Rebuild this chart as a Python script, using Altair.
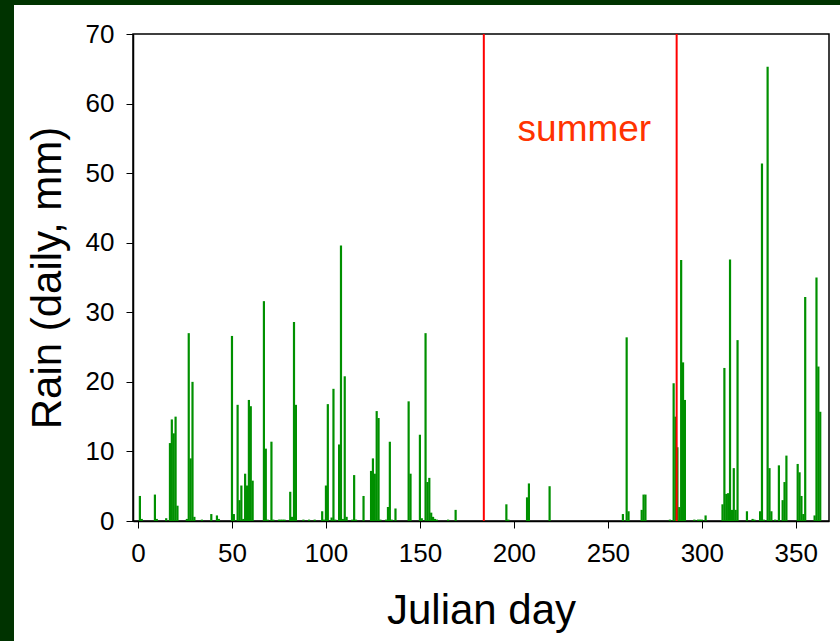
import altair as alt
import pandas as pd

# Daily rain (mm) by Julian day
days = [1, 2, 9, 10, 15, 17, 18, 19, 20, 21, 26, 27, 28, 29, 30, 34, 39, 42, 43,
        50, 51, 53, 54, 55, 56, 57, 58, 59, 60, 61, 67, 68, 69, 71, 72, 75, 76, 77, 78,
        81, 82, 83, 84, 88, 91, 94, 98, 99, 100, 101, 103, 104, 105, 107, 108, 109, 110,
        111, 114, 115, 116, 120, 124, 125, 126, 127, 128, 129, 132, 133, 134, 135, 137,
        144, 145, 150, 151, 153, 154, 155, 156, 157, 158, 159, 165, 169, 196, 197, 207,
        208, 219, 258, 260, 261, 268, 269, 270, 283, 285, 286, 287, 288, 289, 290, 291,
        296, 298, 299, 300, 302, 311, 312, 313, 314, 315, 316, 317, 318, 319, 324, 327,
        328, 331, 332, 333, 335, 336, 337, 339, 341, 343, 344, 345, 351, 352, 353, 354,
        355, 360, 361, 362, 363]
rain = [3.6, 0.3, 3.8, 0.3, 0.4, 11.2, 14.6, 12.6, 15.0, 2.2, 0.3, 27.0, 9.0, 20.0, 0.6, 0.2, 1.0, 0.8, 0.3,
        26.6, 1.0, 16.7, 3.0, 5.1, 0.3, 6.8, 5.1, 17.4, 16.5, 5.8, 31.6, 10.4, 0.2, 11.4, 0.2, 0.2, 0.2, 0.2, 0.2,
        4.2, 0.6, 28.6, 16.7, 0.2, 0.2, 0.2, 1.4, 0.2, 5.1, 16.8, 0.5, 19.0, 0.2, 11.0, 39.6, 0.3, 20.8,
        0.6, 0.2, 6.6, 0.2, 3.6, 7.2, 9.0, 6.8, 15.8, 14.8, 0.2, 0.2, 2.0, 11.4, 0.2, 1.8,
        17.2, 6.8, 12.4, 0.4, 27.0, 5.6, 6.2, 1.2, 0.6, 0.3, 0.2, 0.2, 1.6, 2.4, 0.2, 3.4,
        5.4, 5.0, 1.0, 26.4, 1.4, 1.6, 3.8, 3.8, 0.2, 19.8, 15.0, 10.6, 2.0, 37.5, 22.8, 17.4,
        0.2, 0.2, 0.2, 0.2, 0.8, 2.4, 22.0, 3.9, 4.0, 37.6, 1.6, 7.6, 1.6, 26.0, 1.4, 0.3,
        0.2, 1.4, 51.4, 0.2, 65.3, 7.6, 1.4, 0.2, 8.0, 3.0, 5.6, 9.4, 8.2, 7.0, 3.6, 1.0,
        32.2, 0.8, 35.0, 22.2, 15.7]

summer_bounds = [184, 286.6]
summer_label = ["summer"]
summer_day = [237.5]
summer_rain = [54.6]

x_ticks = [0, 50, 100, 150, 200, 250, 300, 350]
y_ticks = [0, 10, 20, 30, 40, 50, 60, 70]

df = pd.DataFrame({"day": days, "rain": rain})
bounds_df = pd.DataFrame({"day": summer_bounds})
label_df = pd.DataFrame({"day": summer_day, "rain": summer_rain, "label": summer_label})

FONT = "Liberation Sans"
x_scale = alt.Scale(domain=[0, 365], nice=False, zero=False)
y_scale = alt.Scale(domain=[0, 70], nice=False)

# decorative dark-green frame strips (left and top edges of the slide)
frame_df = pd.DataFrame({"k": [0]})
left_band = alt.Chart(frame_df).mark_rect(color="#003300").encode(
    x=alt.value(-133), x2=alt.value(-119), y=alt.value(-34), y2=alt.value(607)
)
top_band = alt.Chart(frame_df).mark_rect(color="#003300").encode(
    x=alt.value(-133), x2=alt.value(707), y=alt.value(-34), y2=alt.value(-29)
)

bars = alt.Chart(df).mark_bar(size=2.2, color="#009000").encode(
    x=alt.X("day:Q", scale=x_scale,
            axis=alt.Axis(values=x_ticks, title="Julian day", titlePadding=24,
                          labelPadding=12)),
    y=alt.Y("rain:Q", scale=y_scale,
            axis=alt.Axis(values=y_ticks, title="Rain (daily, mm)", titlePadding=16,
                          labelPadding=12)),
)

rules = alt.Chart(bounds_df).mark_rule(color="#FF0000", strokeWidth=2).encode(
    x=alt.X("day:Q", scale=x_scale)
)

text = alt.Chart(label_df).mark_text(
    font=FONT, fontSize=37, color="#FF3300", align="center", baseline="alphabetic"
).encode(
    x=alt.X("day:Q", scale=x_scale),
    y=alt.Y("rain:Q", scale=y_scale),
    text="label:N",
)

chart = alt.layer(left_band, top_band, bars, rules, text).properties(
    width=696,
    height=487,
    autosize=alt.AutoSizeParams(type="none"),
    padding={"left": 133, "top": 34, "right": 11, "bottom": 120},
    background="white",
).configure_view(
    stroke="#000000", strokeWidth=1.5
).configure_axis(
    grid=False,
    domainColor="#000000",
    domainWidth=1.5,
    tickColor="#000000",
    tickSize=7,
    tickWidth=1,
    labelFont=FONT,
    labelFontSize=26,
    labelColor="#000000",
    titleFont=FONT,
    titleFontSize=42,
    titleFontWeight="normal",
    titleColor="#000000",
)

chart.save("out.html", embed_options={"renderer": "svg", "actions": False})
